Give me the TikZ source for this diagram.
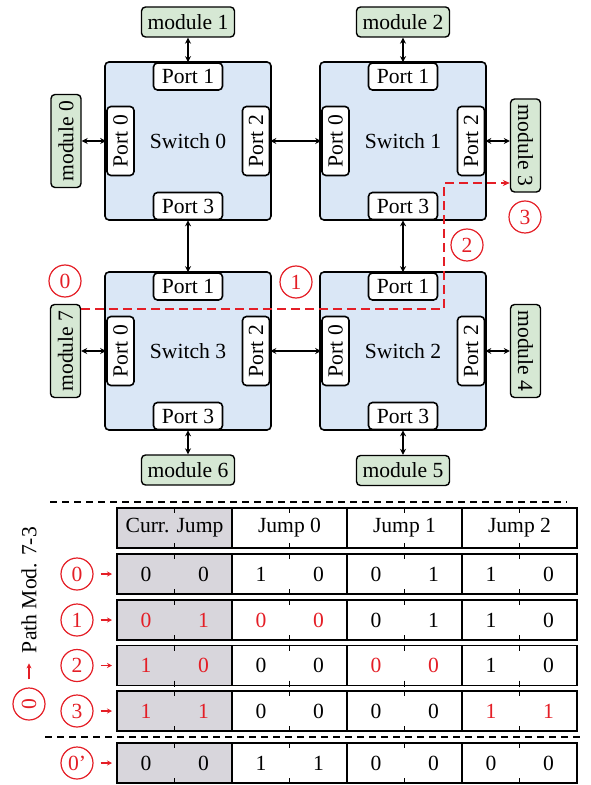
\documentclass[tikz,border=0pt]{standalone}
\usepackage{fontspec}
\setmainfont{Liberation Serif}
\usetikzlibrary{arrows.meta}
\definecolor{swblue}{RGB}{218,231,246}
\definecolor{modgreen}{RGB}{214,232,212}
\definecolor{myred}{RGB}{228,30,38}
\definecolor{tabgray}{RGB}{216,214,220}
\begin{document}
\begin{tikzpicture}[x=0.5pt,y=-0.5pt,
  every node/.style={font=\fontsize{10.8}{13}\selectfont},
  switchbox/.style={draw, fill=swblue, rounded corners=2pt, line width=0.8pt, minimum width=83pt, minimum height=79pt, inner sep=0pt},
  portbox/.style={draw, fill=white, rounded corners=2pt, line width=0.8pt, minimum width=34.5pt, minimum height=13.5pt, inner sep=0pt},
  modbox/.style={draw, fill=modgreen, rounded corners=2pt, line width=0.7pt, minimum width=46.5pt, minimum height=15pt, inner sep=0pt},
  link/.style={{Stealth[length=3pt,width=3pt]}-{Stealth[length=3pt,width=3pt]}, line width=0.7pt},
  redc/.style={circle, draw=myred, text=myred, line width=0.6pt, minimum size=16pt, inner sep=0pt},
  redpath/.style={draw=myred, line width=0.8pt, dash pattern=on 4.5pt off 2.5pt, -{Stealth[length=3.5pt,width=3pt]}},
  redarr/.style={draw=myred, line width=0.6pt, -{Stealth[length=2.5pt,width=2.5pt]}},
  tabline/.style={line width=0.8pt},
  tickline/.style={line width=0.6pt},
  sepline/.style={line width=0.6pt, dash pattern=on 3.5pt off 2.5pt},
  cell/.style={inner sep=0pt},
]
\useasboundingbox (0,0) rectangle (590,785);

% switches and ports
\foreach \n/\x/\y in {0/188/141, 1/403/141, 3/188/351, 2/403/351} {
  \node[switchbox] (s\n) at (\x,\y) {Switch \n};
  \node[portbox] (p\n-1) at (\x,\y-64.5) {Port 1};
  \node[portbox] (p\n-3) at (\x,\y+65) {Port 3};
  \node[portbox, rotate=90] (p\n-0) at (\x-67.5,\y) {Port 0};
  \node[portbox, rotate=90] (p\n-2) at (\x+68,\y) {Port 2};
}

% modules
\node[modbox] (m1) at (188,22) {module 1};
\node[modbox] (m2) at (403,22) {module 2};
\node[modbox, rotate=90] (m0) at (66,141) {module 0};
\node[modbox, rotate=-90] (m3) at (525.5,145.5) {module 3};
\node[modbox, rotate=-90] (m4) at (525.5,351) {module 4};
\node[modbox, rotate=90] (m7) at (65.5,351) {module 7};
\node[modbox] (m6) at (188,470) {module 6};
\node[modbox] (m5) at (403,470.5) {module 5};

% links
\draw[link] (m1) -- (p0-1);
\draw[link] (m2) -- (p1-1);
\draw[link] (m0) -- (p0-0);
\draw[link] (p0-2) -- (p1-0);
\draw[link] (p1-2) -- (p1-2 -| m3.south);
\draw[link] (p0-3) -- (p3-1);
\draw[link] (p1-3) -- (p2-1);
\draw[link] (m7) -- (p3-0);
\draw[link] (p3-2) -- (p2-0);
\draw[link] (p2-2) -- (m4);
\draw[link] (p3-3) -- (m6);
\draw[link] (p2-3) -- (m5);

% red path
\coordinate (rp0) at (81,309);
\coordinate (rp1) at (444,309);
\coordinate (rp2) at (444,183);
\draw[redpath] (rp0) -- (rp1) -- (rp2) -- (rp2 -| m3.south);
\node[redc] (c0) at (65,281) {0};
\node[redc] (c1) at (296,282) {1};
\node[redc] (c2) at (467,245) {2};
\node[redc] (c3) at (525,217) {3};

% separators
\draw[sepline] (50,502) -- (567,502);
\draw[sepline] (45,737) -- (583,737);

% table rows
\foreach \t/\nm in {508/rh, 554/r0, 600/r1, 645.5/r2, 691/r3, 743/r4} {
  \fill[tabgray] (117,\t) rectangle (232,\t+40);
  \draw[tabline] (117,\t) rectangle (577,\t+40);
  \foreach \xx in {232,347,462} \draw[tabline] (\xx,\t) -- (\xx,\t+40);
  \foreach \xx in {174.5,289.5,404.5,519.5} {
    \draw[tickline] (\xx,\t-1) -- (\xx,\t+5);
    \draw[tickline] (\xx,\t+35) -- (\xx,\t+41);
  }
  \coordinate (\nm) at (112,\t+20);
}

% header
\node (hc) at (174.5,528) {Curr. Jump};
\node (h0) at (289.5,528) {Jump 0};
\node (h1) at (404.5,528) {Jump 1};
\node (h2) at (519.5,528) {Jump 2};

% data
\foreach \v/\c [count=\k from 0] in {0/black,0/black,1/black,0/black,0/black,1/black,1/black,0/black}
  \node[cell, text=\c] (a0-\k) at ({146+57.5*\k},574) {\v};
\foreach \v/\c [count=\k from 0] in {0/myred,1/myred,0/myred,0/myred,0/black,1/black,1/black,0/black}
  \node[cell, text=\c] (a1-\k) at ({146+57.5*\k},620) {\v};
\foreach \v/\c [count=\k from 0] in {1/myred,0/myred,0/black,0/black,0/myred,0/myred,1/black,0/black}
  \node[cell, text=\c] (a2-\k) at ({146+57.5*\k},665.5) {\v};
\foreach \v/\c [count=\k from 0] in {1/myred,1/myred,0/black,0/black,0/black,0/black,1/myred,1/myred}
  \node[cell, text=\c] (a3-\k) at ({146+57.5*\k},711) {\v};
\foreach \v/\c [count=\k from 0] in {0/black,0/black,1/black,1/black,0/black,0/black,0/black,0/black}
  \node[cell, text=\c] (a4-\k) at ({146+57.5*\k},763) {\v};

% row labels
\node[redc] (l0) at (77,574) {0};
\node[redc] (l1) at (77,620) {1};
\node[redc] (l2) at (77,665.5) {2};
\node[redc] (l3) at (77,711) {3};
\node[redc] (l4) at (77,763) {0'};
\foreach \a/\b in {l0/r0, l1/r1, l2/r2, l3/r3, l4/r4}
  \draw[redarr, shorten <=3.5pt] (\a) -- (\b);

% path label
\node[rotate=90, inner sep=0pt] (plab) at (29,590) {Path Mod. 7-3};
\node[redc, rotate=90] (pc) at (29,704) {0};
\draw[redarr, shorten <=4pt, shorten >=5pt] (pc) -- (plab);
\end{tikzpicture}
\end{document}
